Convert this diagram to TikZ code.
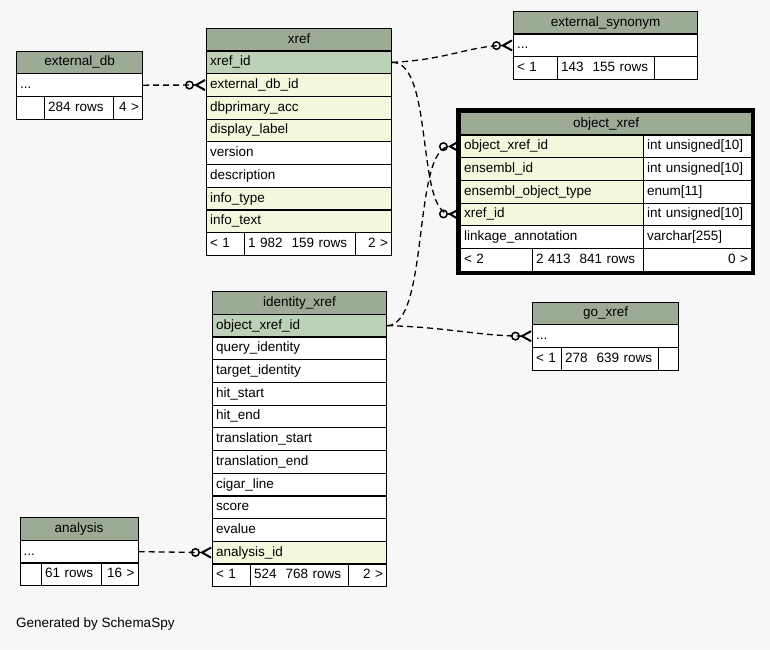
\documentclass[tikz,border=0pt]{standalone}
\usepackage{fontspec}
\setmainfont{Liberation Sans}
\usetikzlibrary{arrows.meta}

\definecolor{headgreen}{HTML}{9CAB96}
\definecolor{pkgreen}{HTML}{BDD0B8}
\definecolor{fkyellow}{HTML}{F4F7DC}
\definecolor{bggray}{HTML}{F7F7F7}

\tikzset{
  cell/.style={draw=black, line width=1.2pt, anchor=north west, inner xsep=3.5pt, inner ysep=0pt,
    minimum height=22.7pt, text height=9.5pt, text depth=2.5pt, align=left,
    font=\fontsize{13.5}{15}\selectfont},
  head/.style={cell, fill=headgreen, align=center},
  pkrow/.style={cell, fill=pkgreen},
  fkrow/.style={cell, fill=fkyellow},
  plainrow/.style={cell, fill=white},
  foot/.style={cell, fill=white},
  link/.style={dash pattern=on 6pt off 4pt, line width=1.3pt,
    -{Circle[open,length=9pt,width=9pt,line width=1.5pt,sep=0pt] Straight Barb[reversed,length=9pt,width=10pt,line width=2pt]}},
}

\begin{document}
\begin{tikzpicture}[x=1pt,y=-1pt]
\fill[bggray] (0,0) rectangle (770,649);
\useasboundingbox (0,0) rectangle (770,649);

% external_db
\node[head, text width=119pt] (extdb) at (16,50.5) {external\_db};
\node[plainrow, text width=119pt] (extdb-dots) at (16,73.2) {...};
\node[foot, text width=21pt] (extdb-f1) at (16,95.9) {};
\node[foot, text width=62pt] (extdb-f2) at (44,95.9) {284 rows};
\node[foot, text width=22pt, align=right] (extdb-f3) at (113,95.9) {4 >};

% xref
\node[head, text width=178pt] (xref) at (206,27.7) {xref};
\foreach \n/\t/\s [count=\i from 0] in {xrefid/xref\_id/pkrow, extdbid/external\_db\_id/fkrow,
    dbacc/dbprimary\_acc/fkrow, label/display\_label/fkrow, version/version/plainrow,
    descr/description/plainrow, infotype/info\_type/fkrow, infotext/info\_text/fkrow}
  \node[\s, text width=178pt] (xref-\n) at (206,{50.4+22.7*\i}) {\t};
\node[foot, text width=31pt] (xref-f1) at (206,232) {< 1};
\node[foot, text width=104pt] (xref-f2) at (244,232) {1 982\ \ 159 rows};
\node[foot, text width=29pt, align=right] (xref-f3) at (355,232) {2 >};

% external_synonym
\node[head, text width=177pt] (extsyn) at (513,10.7) {external\_synonym};
\node[plainrow, text width=177pt] (extsyn-dots) at (513,33.4) {...};
\node[foot, text width=37pt] (extsyn-f1) at (513,56.1) {< 1};
\node[foot, text width=90pt] (extsyn-f2) at (557,56.1) {143\ \ 155 rows};
\node[foot, text width=36pt] (extsyn-f3) at (654,56.1) {};

% object_xref
\node[head, text width=284pt] (objx) at (460,111.7) {object\_xref};
\foreach \n/\t/\ty/\s [count=\i from 0] in {objxrefid/object\_xref\_id/int unsigned[10]/fkrow,
    ensid/ensembl\_id/int unsigned[10]/fkrow, enstype/ensembl\_object\_type/enum[11]/fkrow,
    xrefid/xref\_id/int unsigned[10]/fkrow, linkage/linkage\_annotation/varchar[255]/plainrow}
{
  \node[\s, text width=176pt] (objx-\n) at (460,{134.4+22.7*\i}) {\t};
  \node[plainrow, text width=101pt] (objx-\n-t) at (643,{134.4+22.7*\i}) {\ty};
}
\node[foot, text width=65pt] (objx-f1) at (460,247.9) {< 2};
\node[foot, text width=104pt] (objx-f2) at (532,247.9) {2 413\ \ 841 rows};
\node[foot, text width=101pt, align=right] (objx-f3) at (643,247.9) {0 >};
\draw[line width=4pt] (458,109.7) rectangle (753,272.6);

% go_xref
\node[head, text width=139pt] (goxref) at (532,301.5) {go\_xref};
\node[plainrow, text width=139pt] (goxref-dots) at (532,324.2) {...};
\node[foot, text width=22pt] (goxref-f1) at (532,346.9) {< 1};
\node[foot, text width=90pt] (goxref-f2) at (561,346.9) {278\ \ 639 rows};
\node[foot, text width=13pt] (goxref-f3) at (658,346.9) {};

% identity_xref
\node[head, text width=167pt] (idx) at (212,291) {identity\_xref};
\foreach \n/\t/\s [count=\i from 0] in {objxrefid/object\_xref\_id/pkrow, query/query\_identity/plainrow,
    target/target\_identity/plainrow, hitstart/hit\_start/plainrow, hitend/hit\_end/plainrow,
    trstart/translation\_start/plainrow, trend/translation\_end/plainrow, cigar/cigar\_line/plainrow,
    score/score/plainrow, evalue/evalue/plainrow, analysisid/analysis\_id/fkrow}
  \node[\s, text width=167pt] (idx-\n) at (212,{313.7+22.7*\i}) {\t};
\node[foot, text width=31pt] (idx-f1) at (212,563.4) {< 1};
\node[foot, text width=91pt] (idx-f2) at (250,563.4) {524\ \ 768 rows};
\node[foot, text width=31pt, align=right] (idx-f3) at (348,563.4) {2 >};

% analysis
\node[head, text width=111pt] (analysis) at (19.5,517) {analysis};
\node[plainrow, text width=111pt] (analysis-dots) at (19.5,539.7) {...};
\node[foot, text width=14.5pt] (analysis-f1) at (19.5,562.4) {};
\node[foot, text width=53pt] (analysis-f2) at (41,562.4) {61 rows};
\node[foot, text width=29.5pt, align=right] (analysis-f3) at (101,562.4) {16 >};

\node[anchor=west, inner sep=0pt, font=\fontsize{13.5}{15}\selectfont] (credit) at (16,624) {Generated by SchemaSpy};

% relationships
\draw[link] (extdb-dots.east) -- (xref-extdbid.west);
\draw[link] (xref-xrefid.east) .. controls (445,60) and (470,46) .. (extsyn-dots.west);
\draw[link] (xref-xrefid.east) .. controls (434,62) and (416,213) .. (objx-xrefid.west);
\draw[link] (idx-objxrefid.east) .. controls (430,325) and (412,147) .. (objx-objxrefid.west);
\draw[link] (idx-objxrefid.east) .. controls (445,327) and (480,336) .. (goxref-dots.west);
\draw[link] (analysis-dots.east) -- (idx-analysisid.west);
\end{tikzpicture}
\end{document}
